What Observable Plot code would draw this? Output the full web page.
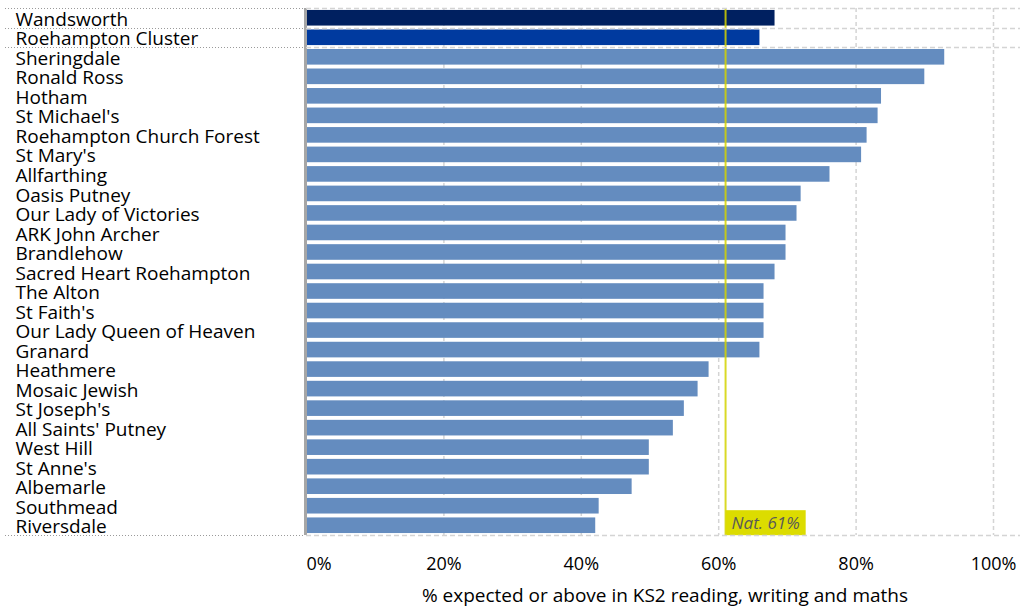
<!DOCTYPE html>
<html><head><meta charset="utf-8">
<script src="https://cdn.jsdelivr.net/npm/d3@7"></script>
<script src="https://cdn.jsdelivr.net/npm/@observablehq/plot@0.6"></script>
<style>
html,body{margin:0;padding:0;background:#fff;}
#chart svg{display:block;}
</style>
</head><body><div id="chart"></div>
<script>
const schools = ["Wandsworth","Roehampton Cluster","Sheringdale","Ronald Ross","Hotham","St Michael's","Roehampton Church Forest","St Mary's","Allfarthing","Oasis Putney","Our Lady of Victories","ARK John Archer","Brandlehow","Sacred Heart Roehampton","The Alton","St Faith's","Our Lady Queen of Heaven","Granard","Heathmere","Mosaic Jewish","St Joseph's","All Saints' Putney","West Hill","St Anne's","Albemarle","Southmead","Riversdale"];
const values = [68.2,66,92.9,90,83.7,83.2,81.6,80.8,76.2,72,71.4,69.8,69.8,68.2,66.6,66.6,66.6,66,58.6,57,55,53.4,49.9,49.9,47.4,42.6,42.1];
const groups = ["Borough","Cluster","School","School","School","School","School","School","School","School","School","School","School","School","School","School","School","School","School","School","School","School","School","School","School","School","School"];
const groupNames = ["Borough","Cluster","School"];
const groupColors = ["#002060","#003a9f","#648cbf"];
const xTicks = [0,20,40,60,80,100];
const nationalAverage = 61;
const nationalLabel = "Nat. 61%";
const axisTitle = "% expected or above in KS2 reading, writing and maths";
const separatorsAfter = ["Wandsworth","Roehampton Cluster"];

const data = schools.map((s,i)=>({school:s, value:values[i], group:groups[i]}));
const natData = [{label:nationalLabel, value:nationalAverage, school:schools[schools.length-1]}];
const FONT = "'Open Sans', 'Noto Sans', sans-serif";

const chart = Plot.plot({
  width:1020, height:606,
  marginLeft:306, marginRight:27, marginTop:8, marginBottom:71,
  style:{fontFamily:FONT, fontSize:"18px", color:"#000", background:"#fff"},
  x:{domain:[0,100], axis:null},
  y:{domain:schools, paddingInner:0.2, paddingOuter:0.1, round:false, axis:null},
  color:{domain:groupNames, range:groupColors},
  marks:[
    Plot.ruleX(xTicks.filter(d=>d>0), {stroke:"#d4d4d4", strokeDasharray:"4,3", strokeWidth:1.5}),
    Plot.barX(data, {y:"school", x:"value", fill:"group"}),
    Plot.ruleX([0], {stroke:"#a6a6a6", strokeWidth:3, dx:-1}),
    Plot.ruleX([nationalAverage], {stroke:"#d2d200", strokeWidth:2, strokeOpacity:0.85}),
    Plot.text(natData, {x:"value", y:"school", text:"label", textAnchor:"start", dx:6, dy:-2, fontStyle:"italic", fill:"#595959", fontSize:17}),
    Plot.axisY({tickSize:0, textAnchor:"start", tickPadding:291, fontSize:19, fill:"#000", dy:1.5, label:null}),
    Plot.text(xTicks.filter(d=>d===0), {x:d=>d, frameAnchor:"bottom", dy:34, textAnchor:"start", text:d=>d+"%", fontSize:18}),
    Plot.text(xTicks.filter(d=>d>0), {x:d=>d, frameAnchor:"bottom", dy:34, text:d=>d+"%", fontSize:18}),
    Plot.text([axisTitle], {frameAnchor:"bottom", dy:66, dx:15, fontSize:19})
  ]
});
document.getElementById("chart").appendChild(chart);

// separators between header rows, using the chart's y scale
const svg = d3.select(chart);
const ys = chart.scale("y");
const step = ys.step;
const innerPad = 0.2, outerPad = 0.1;
const sepY = [ys.apply(schools[0]) - step * outerPad];
separatorsAfter.forEach(s => {
  const idx = schools.indexOf(s);
  sepY.push(ys.apply(schools[idx+1]) - step * innerPad / 2);
});
sepY.push(ys.apply(schools[schools.length-1]) + ys.bandwidth + step * outerPad);
const sepG = svg.append("g");
sepY.forEach(y => {
  const yy = Math.round(y) + 0.5;
  sepG.append("line").attr("x1",5).attr("x2",303).attr("y1",yy).attr("y2",yy)
    .attr("stroke","#9a9a9a").attr("stroke-dasharray","1,2");
  sepG.append("line").attr("x1",306).attr("x2",1020).attr("y1",yy).attr("y2",yy)
    .attr("stroke","#d4d4d4").attr("stroke-width",1.5).attr("stroke-dasharray","5,3");
});

// background box for national label
const lbl = svg.selectAll("text").filter(function(){ return this.textContent === nationalLabel; });
if (!lbl.empty()) {
  const node = lbl.node();
  const bb = node.getBBox();
  d3.select(node.parentNode).insert("rect", () => node)
    .attr("transform", node.getAttribute("transform"))
    .attr("x", bb.x - 6).attr("y", bb.y - 1)
    .attr("width", bb.width + 12).attr("height", bb.height + 2)
    .attr("fill","#dcdc00");
}
</script>
</body></html>
